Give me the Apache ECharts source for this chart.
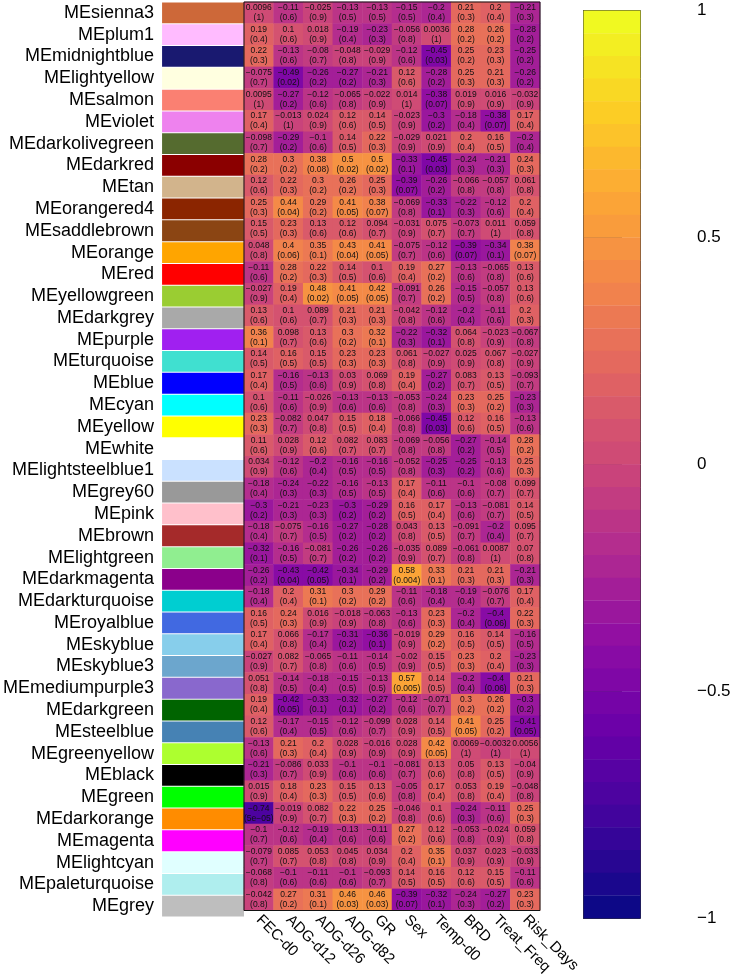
<!DOCTYPE html>
<html><head><meta charset="utf-8">
<script src="https://cdn.jsdelivr.net/npm/echarts@6/dist/echarts.min.js"></script>
<style>html,body{margin:0;padding:0;background:#fff}#c{width:734px;height:977px}</style>
</head><body><div id="c"></div>
<script>
const modules = ['MEsienna3','MEplum1','MEmidnightblue','MElightyellow','MEsalmon','MEviolet','MEdarkolivegreen','MEdarkred','MEtan','MEorangered4','MEsaddlebrown','MEorange','MEred','MEyellowgreen','MEdarkgrey','MEpurple','MEturquoise','MEblue','MEcyan','MEyellow','MEwhite','MElightsteelblue1','MEgrey60','MEpink','MEbrown','MElightgreen','MEdarkmagenta','MEdarkturquoise','MEroyalblue','MEskyblue','MEskyblue3','MEmediumpurple3','MEdarkgreen','MEsteelblue','MEgreenyellow','MEblack','MEgreen','MEdarkorange','MEmagenta','MElightcyan','MEpaleturquoise','MEgrey'];
const moduleColors = ['#CD6839','#FFBBFF','#191970','#FFFFE0','#FA8072','#EE82EE','#556B2F','#8B0000','#D2B48C','#8B2500','#8B4513','#FFA500','#FF0000','#9ACD32','#A9A9A9','#A020F0','#40E0D0','#0000FF','#00FFFF','#FFFF00','#FFFFFF','#CAE1FF','#999999','#FFC0CB','#A52A2A','#90EE90','#8B008B','#00CED1','#4169E1','#87CEEB','#6CA6CD','#8968CD','#006400','#4682B4','#ADFF2F','#000000','#00FF00','#FF8C00','#FF00FF','#E0FFFF','#AFEEEE','#BEBEBE'];
const traits = ['FEC-d0','ADG-d12','ADG-d26','ADG-d82','GR','Sex','Temp-d0','BRD','Treat_Freq','Risk_Days'];
const corrValues = [
 [0.0096,-0.11,-0.025,-0.13,-0.13,-0.15,-0.2,0.21,0.2,-0.21],
 [0.19,0.1,0.018,-0.19,-0.23,-0.056,0.0036,0.28,0.26,-0.28],
 [0.22,-0.13,-0.08,-0.048,-0.029,-0.12,-0.45,0.25,0.23,-0.25],
 [-0.075,-0.49,-0.26,-0.27,-0.21,0.12,-0.28,0.25,0.21,-0.26],
 [0.0095,-0.27,-0.12,-0.065,-0.022,0.014,-0.38,0.019,0.016,-0.032],
 [0.17,-0.013,0.024,0.12,0.14,-0.023,-0.3,-0.18,-0.38,0.17],
 [-0.098,-0.29,-0.1,0.14,0.22,-0.029,0.021,0.2,0.16,-0.2],
 [0.28,0.3,0.38,0.5,0.5,-0.33,-0.45,-0.24,-0.21,0.24],
 [0.12,0.22,0.3,0.26,0.25,-0.39,-0.26,-0.066,-0.057,0.061],
 [0.25,0.44,0.29,0.41,0.38,-0.069,-0.33,-0.22,-0.12,0.2],
 [0.15,0.23,0.13,0.12,0.094,-0.031,0.075,-0.073,0.011,0.059],
 [0.048,0.4,0.35,0.43,0.41,-0.075,-0.12,-0.39,-0.34,0.38],
 [-0.11,0.28,0.22,0.14,0.1,0.19,0.27,-0.13,-0.065,0.13],
 [-0.027,0.19,0.48,0.41,0.42,-0.091,0.26,-0.15,-0.057,0.13],
 [0.13,0.1,0.089,0.21,0.21,-0.042,-0.12,-0.2,-0.11,0.2],
 [0.36,0.098,0.13,0.3,0.32,-0.22,-0.32,0.064,-0.023,-0.067],
 [0.14,0.16,0.15,0.23,0.23,0.061,-0.027,0.025,0.067,-0.027],
 [0.17,-0.16,-0.13,0.03,0.069,0.19,-0.27,0.083,0.13,-0.093],
 [0.1,-0.11,-0.026,-0.13,-0.13,-0.053,-0.24,0.23,0.25,-0.23],
 [0.23,-0.082,0.047,0.15,0.18,-0.066,-0.45,0.12,0.16,-0.13],
 [0.11,0.028,0.12,0.082,0.083,-0.069,-0.056,-0.27,-0.14,0.28],
 [0.034,-0.12,-0.2,-0.16,-0.16,-0.052,-0.25,-0.25,-0.13,0.25],
 [-0.18,-0.24,-0.22,-0.16,-0.13,0.17,-0.11,-0.1,-0.08,0.099],
 [-0.3,-0.21,-0.23,-0.3,-0.29,0.16,0.17,-0.13,-0.081,0.14],
 [-0.18,-0.075,-0.16,-0.27,-0.28,0.043,0.13,-0.091,-0.2,0.095],
 [-0.32,-0.16,-0.081,-0.26,-0.26,-0.035,0.089,-0.061,0.0087,0.07],
 [-0.26,-0.43,-0.42,-0.34,-0.29,0.58,0.33,0.21,0.21,-0.21],
 [-0.18,0.2,0.31,0.3,0.29,-0.11,-0.18,-0.19,-0.076,0.17],
 [0.16,0.24,0.016,-0.018,-0.063,-0.13,0.23,-0.2,-0.4,0.22],
 [0.17,0.066,-0.17,-0.31,-0.36,-0.019,0.29,0.16,0.14,-0.16],
 [-0.027,0.082,-0.065,-0.11,-0.14,-0.02,0.15,0.23,0.2,-0.23],
 [0.051,-0.14,-0.18,-0.15,-0.13,0.57,0.14,-0.2,-0.4,0.21],
 [0.19,-0.42,-0.33,-0.32,-0.27,-0.12,-0.071,0.3,0.26,-0.3],
 [0.12,-0.17,-0.15,-0.12,-0.099,0.028,0.14,0.41,0.25,-0.41],
 [-0.13,0.21,0.2,0.028,-0.016,0.028,0.42,0.0069,-0.0032,0.0056],
 [-0.21,-0.086,0.033,-0.1,-0.1,-0.081,0.13,0.05,0.13,-0.04],
 [0.015,0.18,0.23,0.15,0.13,-0.05,0.17,0.053,0.19,-0.048],
 [-0.74,-0.019,0.082,0.22,0.25,-0.046,0.1,-0.24,-0.11,0.25],
 [-0.1,-0.12,-0.19,-0.13,-0.11,0.27,0.12,-0.053,-0.024,0.059],
 [-0.079,0.085,0.053,0.045,0.034,0.2,0.35,0.037,0.023,-0.033],
 [-0.068,-0.1,-0.11,-0.1,-0.093,0.14,0.16,0.12,0.15,-0.11],
 [-0.042,0.27,0.31,0.46,0.46,-0.39,-0.32,-0.24,-0.27,0.23]
];
const pValues = [
 [1,0.6,0.9,0.5,0.5,0.5,0.4,0.3,0.4,0.3],
 [0.4,0.6,0.9,0.4,0.3,0.8,1,0.2,0.2,0.2],
 [0.3,0.6,0.7,0.8,0.9,0.6,0.03,0.2,0.3,0.2],
 [0.7,0.02,0.2,0.2,0.3,0.6,0.2,0.3,0.3,0.2],
 [1,0.2,0.6,0.8,0.9,1,0.07,0.9,0.9,0.9],
 [0.4,1,0.9,0.6,0.5,0.9,0.2,0.4,0.07,0.4],
 [0.7,0.2,0.6,0.5,0.3,0.9,0.9,0.4,0.5,0.4],
 [0.2,0.2,0.08,0.02,0.02,0.1,0.03,0.3,0.3,0.3],
 [0.6,0.3,0.2,0.2,0.3,0.07,0.2,0.8,0.8,0.8],
 [0.3,0.04,0.2,0.05,0.07,0.8,0.1,0.3,0.6,0.4],
 [0.5,0.3,0.6,0.6,0.7,0.9,0.7,0.7,1,0.8],
 [0.8,0.06,0.1,0.04,0.05,0.7,0.6,0.07,0.1,0.07],
 [0.6,0.2,0.3,0.5,0.6,0.4,0.2,0.6,0.8,0.6],
 [0.9,0.4,0.02,0.05,0.05,0.7,0.2,0.5,0.8,0.6],
 [0.6,0.6,0.7,0.3,0.3,0.8,0.6,0.4,0.6,0.3],
 [0.1,0.7,0.6,0.2,0.1,0.3,0.1,0.8,0.9,0.8],
 [0.5,0.5,0.5,0.3,0.3,0.8,0.9,0.9,0.8,0.9],
 [0.4,0.5,0.6,0.9,0.8,0.4,0.2,0.7,0.5,0.7],
 [0.6,0.6,0.9,0.6,0.6,0.8,0.3,0.3,0.2,0.3],
 [0.3,0.7,0.8,0.5,0.4,0.8,0.03,0.6,0.5,0.6],
 [0.6,0.9,0.6,0.7,0.7,0.8,0.8,0.2,0.5,0.2],
 [0.9,0.6,0.4,0.5,0.5,0.8,0.3,0.2,0.6,0.3],
 [0.4,0.3,0.3,0.5,0.5,0.4,0.6,0.6,0.7,0.7],
 [0.2,0.3,0.3,0.2,0.2,0.5,0.4,0.6,0.7,0.5],
 [0.4,0.7,0.5,0.2,0.2,0.8,0.5,0.7,0.4,0.7],
 [0.1,0.5,0.7,0.2,0.2,0.9,0.7,0.8,1,0.8],
 [0.2,0.04,0.05,0.1,0.2,0.004,0.1,0.3,0.3,0.3],
 [0.4,0.4,0.1,0.2,0.2,0.6,0.4,0.4,0.7,0.4],
 [0.5,0.3,0.9,0.9,0.8,0.6,0.3,0.4,0.06,0.3],
 [0.4,0.8,0.4,0.2,0.1,0.9,0.2,0.5,0.5,0.5],
 [0.9,0.7,0.8,0.6,0.5,0.9,0.5,0.3,0.4,0.3],
 [0.8,0.5,0.4,0.5,0.5,0.005,0.5,0.4,0.06,0.3],
 [0.4,0.05,0.1,0.1,0.2,0.6,0.7,0.2,0.2,0.2],
 [0.6,0.4,0.5,0.6,0.7,0.9,0.5,0.05,0.2,0.05],
 [0.6,0.3,0.4,0.9,0.9,0.9,0.05,1,1,1],
 [0.3,0.7,0.9,0.6,0.6,0.7,0.6,0.8,0.5,0.9],
 [0.9,0.4,0.3,0.5,0.6,0.8,0.4,0.8,0.4,0.8],
 [5e-5,0.9,0.7,0.3,0.2,0.8,0.6,0.3,0.6,0.3],
 [0.7,0.6,0.4,0.6,0.6,0.2,0.6,0.8,0.9,0.8],
 [0.7,0.7,0.8,0.8,0.9,0.4,0.1,0.9,0.9,0.9],
 [0.8,0.6,0.6,0.6,0.7,0.5,0.5,0.6,0.5,0.6],
 [0.8,0.2,0.1,0.03,0.03,0.07,0.1,0.3,0.2,0.3]
];
const colorbarTicks = [-1, -0.5, 0, 0.5, 1];
const plasma = ['#0d0887','#41049d','#6a00a8','#8f0da4','#b12a90','#cc4778','#e16462','#f2844b','#fca636','#fcce25','#f0f921'];

const FONT = "'Liberation Sans', Arial, sans-serif";
function fmtNum(v){ return String(v).replace('-', '\u2212'); }
function fmtP(p){
  if (p < 1e-3) {
    let s = p.toExponential();
    s = s.replace(/e([+-])(\d+)$/, function(m, sg, d){ return 'e' + sg + (d.length < 2 ? '0' + d : d); });
    return s.replace('-', '\u2212');
  }
  return String(p);
}

const heatData = [];
corrValues.forEach(function(row, i){
  row.forEach(function(v, j){ heatData.push([j, i, v, pValues[i][j]]); });
});
const swatchData = modules.map(function(m, i){ return [0, i]; });

const chart = echarts.init(document.getElementById('c'), null, {renderer: 'canvas'});
const GT = 2, GH = 915;
chart.setOption({
  animation: false,
  backgroundColor: '#fff',
  textStyle: {fontFamily: FONT},
  grid: [
    {left: 158, width: 86, top: GT, height: GH},
    {left: 244, width: 296, top: GT, height: GH, show: true, borderColor: '#111', borderWidth: 1, backgroundColor: 'transparent', z: 10},
    {left: 583, width: 57, top: 10, height: 908}
  ],
  xAxis: [
    {gridIndex: 0, type: 'category', data: ['c'], show: false},
    {gridIndex: 1, type: 'category', data: traits, axisLine: {show: false}, axisTick: {show: false},
     axisLabel: {rotate: -45, fontSize: 15, color: '#000', margin: 7, fontFamily: FONT, interval: 0}},
    {gridIndex: 2, type: 'value', min: 0, max: 1, show: false}
  ],
  yAxis: [
    {gridIndex: 0, type: 'category', data: modules, inverse: true, axisLine: {show: false}, axisTick: {show: false},
     axisLabel: {fontSize: 18, color: '#000', margin: 8, fontFamily: FONT, interval: 0}},
    {gridIndex: 1, type: 'category', data: modules, inverse: true, show: false},
    {gridIndex: 2, type: 'value', min: -1, max: 1, interval: 0.5, position: 'right',
     axisLine: {show: false}, splitLine: {show: false},
     axisTick: {show: true, length: 39, lineStyle: {color: '#444', width: 1}},
     axisLabel: {fontSize: 17, color: '#000', margin: 57, fontFamily: FONT,
       formatter: function(v){ return colorbarTicks.indexOf(v) >= 0 ? fmtNum(v) : ''; }}}
  ],
  visualMap: {
    type: 'piecewise', seriesIndex: 1, dimension: 2, min: -1, max: 1, splitNumber: 40,
    inRange: {color: plasma}, orient: 'vertical', left: 583, top: 10,
    itemWidth: 57, itemHeight: 23.09, itemGap: -0.4, itemSymbol: 'rect', showLabel: false,
    padding: 0, borderColor: '#333', borderWidth: 1, selectedMode: false, hoverLink: false
  },
  series: [
    {
      type: 'custom', xAxisIndex: 0, yAxisIndex: 0, data: swatchData, silent: true,
      renderItem: function(params, api){
        const c = api.coord([api.value(0), api.value(1)]);
        const s = api.size([1, 1]);
        return {type: 'rect', shape: {x: c[0] - s[0]/2, y: c[1] - s[1]/2 + 0.5, width: s[0], height: s[1] - 1},
                style: {fill: moduleColors[params.dataIndex]}};
      }
    },
    {
      type: 'heatmap', xAxisIndex: 1, yAxisIndex: 1, data: heatData, silent: true,
      encode: {x: 0, y: 1, value: 2},
      label: {show: true, fontSize: 8.5, lineHeight: 10, color: '#111', fontFamily: FONT,
        formatter: function(p){ return fmtNum(p.data[2]) + '\n(' + fmtP(p.data[3]) + ')'; }},
      emphasis: {disabled: true}
    }
  ]
});
</script></body></html>
